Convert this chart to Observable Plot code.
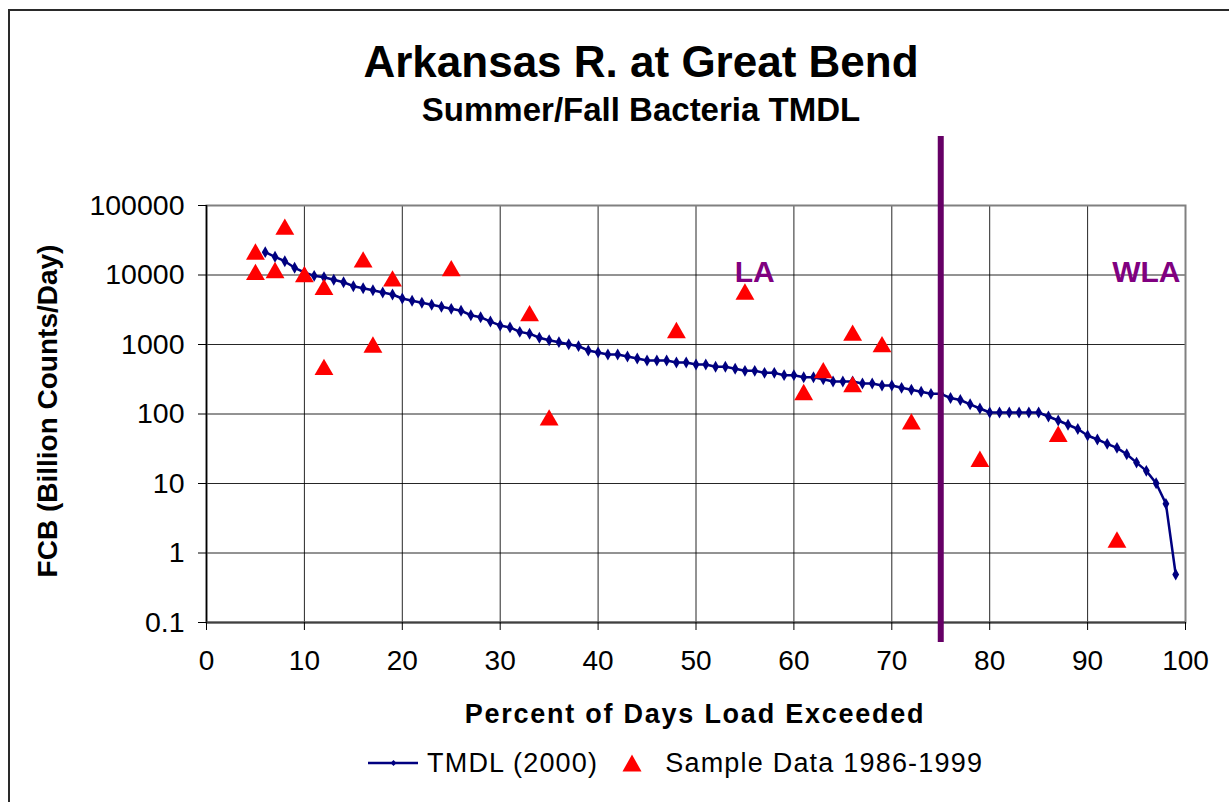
<!DOCTYPE html>
<html>
<head>
<meta charset="utf-8">
<script src="https://cdn.jsdelivr.net/npm/d3@7"></script>
<script src="https://cdn.jsdelivr.net/npm/@observablehq/plot@0.6"></script>
<style>
  html, body { margin: 0; padding: 0; background: #fff; }
  #wrap { position: relative; width: 1229px; height: 802px; overflow: hidden; font-family: "Liberation Sans", Arial, sans-serif; }
  #border { position: absolute; left: 8px; top: 9px; width: 1300px; height: 900px; border-left: 2px solid #2a2a2a; border-top: 2px solid #2a2a2a; }
  .title { position: absolute; left: 0; width: 1282px; text-align: center; font-weight: bold; color: #000; white-space: nowrap; }
  #t1 { top: 36px; font-size: 44px; line-height: 52px; }
  #t2 { top: 91px; font-size: 33px; line-height: 38px; }
  #chart { position: absolute; left: 0; top: 130px; }
  #xlabel { position: absolute; left: 395px; width: 600px; top: 698px; line-height: 32px; text-align: center; font-weight: bold; font-size: 27px; letter-spacing: 1.75px; white-space: nowrap; }
  #ylabel { position: absolute; left: 48px; top: 411px; width: 400px; margin-left: -200px; margin-top: -16px; line-height: 32px; text-align: center; font-weight: bold; font-size: 28px; white-space: nowrap; transform: rotate(-90deg); }
  #legend { position: absolute; left: 368px; top: 745px; display: flex; align-items: center; font-size: 27px; letter-spacing: 1.2px; color: #000; white-space: nowrap; line-height: 36px; }
  #legend svg { display: block; }
</style>
</head>
<body>
<div id="wrap">
  <div id="border"></div>
  <div class="title" id="t1">Arkansas R. at Great Bend</div>
  <div class="title" id="t2">Summer/Fall Bacteria TMDL</div>
  <div id="chart"></div>
  <div id="xlabel"></div>
  <div id="ylabel"></div>
  <div id="legend">
    <svg width="50" height="20"><line x1="0" y1="10" x2="50" y2="10" stroke="#000080" stroke-width="2.5"/><path d="M22.5,10 L25.5,7 L28.5,10 L25.5,13 Z" fill="#000080"/></svg>
    <span style="margin-left:9px">TMDL (2000)</span>
    <svg width="20" height="20" style="margin-left:24px"><path d="M10,1.5 L19.5,18.5 L0.5,18.5 Z" fill="#ff0000"/></svg>
    <span style="margin-left:23px">Sample Data 1986-1999</span>
  </div>
</div>
<script>
// ---- Data ----
const tmdlPct = [6,7,8,9,10,11,12,13,14,15,16,17,18,19,20,21,22,23,24,25,26,27,28,29,30,31,32,33,34,35,36,37,38,39,40,41,42,43,44,45,46,47,48,49,50,51,52,53,54,55,56,57,58,59,60,61,62,63,64,65,66,67,68,69,70,71,72,73,74,75,76,77,78,79,80,81,82,83,84,85,86,87,88,89,90,91,92,93,94,95,96,97,98,99];
const tmdlLoad = [21300,18300,15800,12700,10900,9730,9300,8530,7870,6900,6460,6040,5600,5240,4590,4260,3980,3730,3490,3260,3060,2640,2470,2140,1880,1760,1520,1430,1250,1150,1080,1010,946,820,767,718,718,671,629,589,589,589,551,551,516,516,478,478,447,418,418,391,391,362,362,338,338,316,294,294,294,275,275,257,257,238,223,209,195,195,170,159,138,120,105,105,105,105,105,105,92,80.6,70,60.8,49.1,43,37.2,32.6,26.4,20,15.2,10.1,5.1,0.49];

const samplePct = [5,5,7,8,10,12,12,16,17,19,25,33,35,48,55,61,63,66,66,69,72,79,87,93];
const sampleLoad = [22000,11200,11900,50000,10400,6800,480,16900,1010,9000,12700,2860,90,1630,5850,209,432,1500,272,1020,79,22.9,52.4,1.58];

const regionLabels = ["LA", "WLA"];
const regionPct = [56, 96];
const regionLoad = [11000, 11000];
const boundaryPct = [75];

const xTicks = [0,10,20,30,40,50,60,70,80,90,100];
const yTicks = [0.1,1,10,100,1000,10000,100000];
const yTickLabels = ["0.1","1","10","100","1000","10000","100000"];

const xLabel = "Percent of Days Load Exceeded";
const yLabel = "FCB (Billion Counts/Day)";

// ---- Tables ----
const tmdl = tmdlPct.map((p, i) => ({pct: p, load: tmdlLoad[i]}));
const samples = samplePct.map((p, i) => ({pct: p, load: sampleLoad[i]}));
const regions = regionLabels.map((t, i) => ({label: t, pct: regionPct[i], load: regionLoad[i]}));
const yFmt = d => yTickLabels[yTicks.indexOf(d)] ?? String(d);

document.getElementById("xlabel").textContent = xLabel;
document.getElementById("ylabel").textContent = yLabel;

const chart = Plot.plot({
  width: 1229,
  height: 672,
  marginLeft: 206,
  marginRight: 44,
  marginTop: 75,
  marginBottom: 180,
  style: {fontFamily: "'Liberation Sans', Arial, sans-serif", background: "transparent", overflow: "visible"},
  x: {domain: [0, 100]},
  y: {type: "log", domain: [0.1, 100000]},
  marks: [
    Plot.gridX(xTicks.filter(d => d > 0 && d < 100), {stroke: "#000", strokeOpacity: 0.85, strokeWidth: 1}),
    Plot.gridY(yTicks.filter(d => d > 0.1 && d < 100000), {stroke: "#000", strokeOpacity: 0.85, strokeWidth: 1}),
    Plot.frame({stroke: "#808080", strokeWidth: 2}),
    Plot.ruleX([0], {stroke: "#000", strokeWidth: 1.5}),
    Plot.ruleY([0.1], {stroke: "#404040", strokeWidth: 2}),
    Plot.axisX({ticks: xTicks, tickSize: 8, tickPadding: 20, fontSize: 28, label: null, tickFormat: d => String(d), stroke: "#000"}),
    Plot.axisY({ticks: yTicks, tickSize: 8, tickPadding: 14, fontSize: 28.5, label: null, tickFormat: yFmt, stroke: "#000"}),
    Plot.line(tmdl, {x: "pct", y: "load", stroke: "#000080", strokeWidth: 2.5}),
    Plot.dot(tmdl, {x: "pct", y: "load", symbol: "diamond", r: 3.6, fill: "#000080"}),
    Plot.dot(samples, {x: "pct", y: "load", symbol: "triangle", r: 7, fill: "#ff0000", dy: 3}),
    Plot.ruleX(boundaryPct, {stroke: "#660066", strokeWidth: 6, insetTop: -69, insetBottom: -20}),
    Plot.text(regions, {x: "pct", y: "load", text: "label", fill: "#800080", fontWeight: "bold", fontSize: 30})
  ]
});
document.getElementById("chart").appendChild(chart);
</script>
</body>
</html>
